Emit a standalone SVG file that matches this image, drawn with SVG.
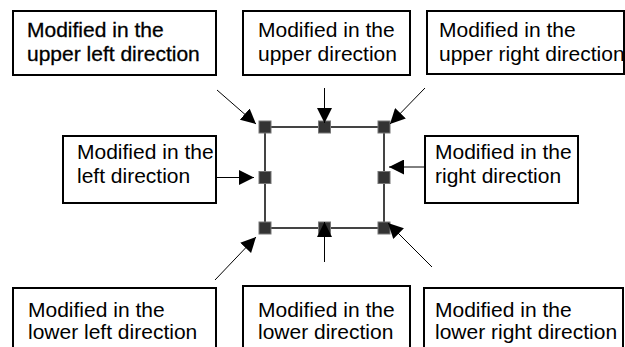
<svg xmlns="http://www.w3.org/2000/svg" width="625" height="347" viewBox="0 0 625 347">
<defs>
<marker id="ah" viewBox="0 0 10 10" refX="10" refY="5" markerWidth="15" markerHeight="15" markerUnits="userSpaceOnUse" orient="auto">
<path d="M0,0 L10,5 L0,10 z" fill="#000"/>
</marker>
</defs>
<style>
.box{fill:#fff;stroke:#000;stroke-width:2}
.t{font-family:"Liberation Sans",Arial,sans-serif;font-size:21px;fill:#000}
.b{stroke:#000;stroke-width:0.3}
.edge{stroke:#444;stroke-width:2}
.h{fill:#333;stroke:#777;stroke-width:1}
.c{stroke:#000;stroke-width:1;fill:none;marker-end:url(#ah)}
</style>
<rect width="625" height="347" fill="#fff"/>
<g id="n-ul"><rect class="box" x="13" y="11" width="203" height="64"/><text class="t b" x="27" y="37">Modified in the</text><text class="t b" x="27" y="61">upper left direction</text></g>
<g id="n-u"><rect class="box" x="243" y="11" width="167" height="64"/><text class="t" x="258" y="37">Modified in the</text><text class="t" x="258" y="61">upper direction</text></g>
<g id="n-ur"><rect class="box" x="427" y="11" width="197" height="63"/><text class="t" x="439" y="37">Modified in the</text><text class="t" x="439" y="61">upper right direction</text></g>
<g id="n-l"><rect class="box" x="63" y="136" width="153" height="67"/><text class="t" x="77" y="159">Modified in the</text><text class="t" x="77" y="183">left direction</text></g>
<g id="n-r"><rect class="box" x="425" y="136" width="153" height="67"/><text class="t" x="435" y="159">Modified in the</text><text class="t" x="435" y="183">right direction</text></g>
<g id="n-ll"><rect class="box" x="13" y="288" width="203" height="70"/><text class="t" x="28" y="317">Modified in the</text><text class="t" x="28" y="339">lower left direction</text></g>
<g id="n-lo"><rect class="box" x="243" y="286" width="167" height="72"/><text class="t" x="258" y="317">Modified in the</text><text class="t" x="258" y="339">lower direction</text></g>
<g id="n-lr"><rect class="box" x="424" y="288" width="199" height="70"/><text class="t" x="435" y="317">Modified in the</text><text class="t" x="435" y="339">lower right direction</text></g>
<g id="n-shape">
<rect x="265" y="127" width="119" height="101" fill="none" class="edge"/>
<rect class="h" x="259" y="121" width="12" height="12"/>
<rect class="h" x="318.5" y="121" width="12" height="12"/>
<rect class="h" x="378" y="121" width="12" height="12"/>
<rect class="h" x="259" y="171.5" width="12" height="12"/>
<rect class="h" x="378" y="171.5" width="12" height="12"/>
<rect class="h" x="259" y="222" width="12" height="12"/>
<rect class="h" x="318.5" y="222" width="12" height="12"/>
<rect class="h" x="378" y="222" width="12" height="12"/>
</g>
<g id="connectors">
<line class="c" x1="217" y1="90" x2="256" y2="124"/>
<line class="c" x1="324.5" y1="88" x2="324.5" y2="123"/>
<line class="c" x1="425" y1="88" x2="390" y2="124"/>
<line class="c" x1="215" y1="177.5" x2="254" y2="177.5"/>
<line class="c" x1="425" y1="167" x2="389" y2="167"/>
<line class="c" x1="215" y1="280" x2="256" y2="237"/>
<line class="c" x1="324.5" y1="262" x2="324.5" y2="222"/>
<line class="c" x1="432" y1="267" x2="388" y2="223"/>
</g>
</svg>
